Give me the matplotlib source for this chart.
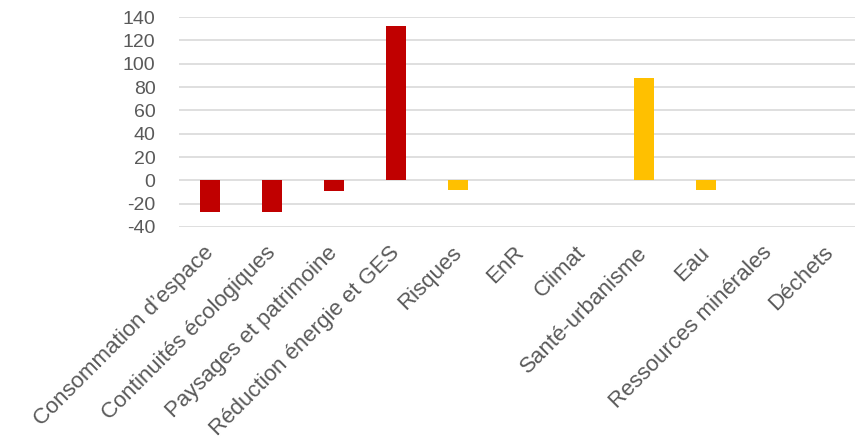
import matplotlib.pyplot as plt
from matplotlib.transforms import ScaledTranslation

plt.rcParams['font.family'] = ['Liberation Sans', 'DejaVu Sans']

categories = ["Consommation d\u2019espace", "Continuités écologiques", "Paysages et patrimoine",
              "Réduction énergie et GES", "Risques", "EnR", "Climat", "Santé-urbanisme",
              "Eau", "Ressources minérales", "Déchets"]
values = [-27, -27, -9, 132, -8, 0, 0, 88, -8, 0, 0]
bar_colors = ["#c00000"] * 4 + ["#ffc000"] * 7
yticks = [-40, -20, 0, 20, 40, 60, 80, 100, 120, 140]

fig = plt.figure(figsize=(8.55, 4.42), dpi=100)
ax = fig.add_axes([179 / 855, 1 - 227 / 442, 682 / 855, 210 / 442])

xs = range(len(categories))
ax.bar(xs, values, width=0.32, color=bar_colors, zorder=3)

ax.set_ylim(-40, 140)
ax.set_xlim(-0.5, len(categories) - 0.5)
ax.set_yticks(yticks)
ax.set_yticklabels([str(t) for t in yticks])
ax.grid(axis='y', color='#d9d9d9', linewidth=1.2, zorder=0)
ax.tick_params(axis='y', length=0, pad=17, labelsize=14, labelcolor='#595959')
ax.tick_params(axis='x', length=0, pad=11, labelsize=16, labelcolor='#595959')
ax.set_xticks(list(xs))
ax.set_xticklabels(categories, rotation=45, ha='right', va='top', rotation_mode='anchor')
shift = ScaledTranslation(-0.07, 0, fig.dpi_scale_trans)
for lbl in ax.get_xticklabels():
    lbl.set_transform(lbl.get_transform() + shift)
for side in ax.spines.values():
    side.set_visible(False)

fig.savefig("out.png", dpi=100)
